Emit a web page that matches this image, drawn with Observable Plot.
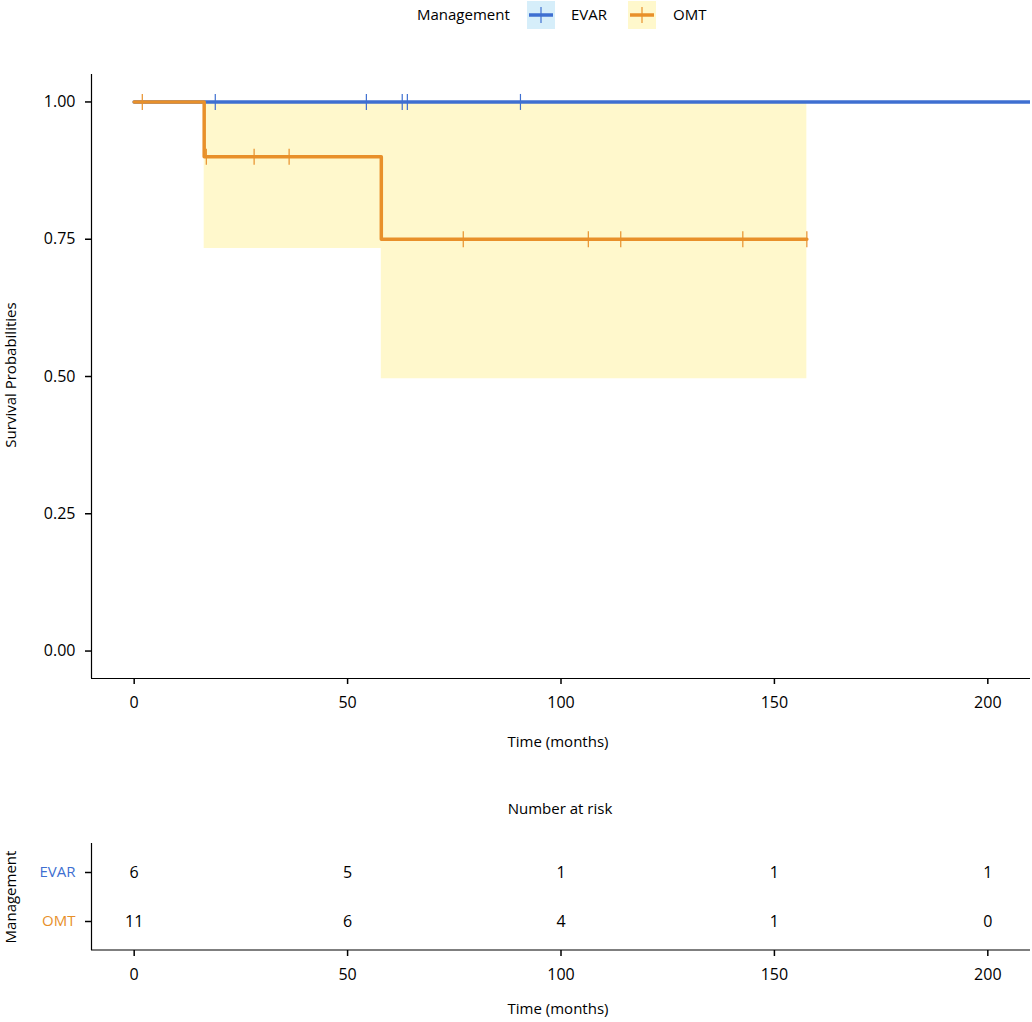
<!DOCTYPE html>
<html>
<head>
<meta charset="utf-8">
<script src="https://cdn.jsdelivr.net/npm/d3@7"></script>
<script src="https://cdn.jsdelivr.net/npm/@observablehq/plot@0.6"></script>
<style>
  html, body { margin: 0; padding: 0; background: #fff; }
  body { font-family: "Open Sans", Lato, sans-serif; color: #000; }
  #wrap { position: relative; width: 1032px; height: 1022px; overflow: hidden; }
  .abs { position: absolute; white-space: nowrap; font-size: 15px; line-height: 1; }
  svg { display: block; }
</style>
</head>
<body>
<div id="wrap">
  <div id="main" style="position:absolute;left:0;top:0;"></div>
  <div id="risk" style="position:absolute;left:0;top:770px;"></div>
  <div id="legend" class="abs" style="left:0;top:0;width:1032px;height:32px;"></div>
  <div class="abs" style="left:558px;top:741px;transform:translate(-50%,-50%);">Time (months)</div>
  <div class="abs" style="left:10px;top:375px;transform:translate(-50%,-50%) rotate(-90deg);">Survival Probabilities</div>
  <div class="abs" style="left:560px;top:808px;transform:translate(-50%,-50%);">Number at risk</div>
  <div class="abs" style="left:558px;top:1008px;transform:translate(-50%,-50%);">Time (months)</div>
  <div class="abs" style="left:10px;top:897px;transform:translate(-50%,-50%) rotate(-90deg);">Management</div>
</div>
<script>
// ---- data ----
const groups = ["EVAR", "OMT"];
const groupColors = ["#3E6FD1", "#E8902A"];
const bandColors = ["#D6EEFA", "#FFF8CC"];

// step curves (time of each step, survival after step)
const evarTimes = [0, 215];
const evarSurv = [1, 1];
const omtTimes = [0, 16.4, 57.9, 157.6];
const omtSurv = [1, 0.9, 0.75, 0.75];

// confidence band for OMT
const omtLower = [1, 0.733, 0.496, 0.496];
const omtUpper = [1, 1, 1, 1];

// censoring times
const evarCensor = [19.0, 54.4, 62.8, 64.0, 90.5];
const omtCensorTimes = [1.9, 16.9, 28.1, 36.3, 77.1, 106.4, 114.0, 142.6, 157.6];
const omtCensorSurv = [1, 0.9, 0.9, 0.9, 0.75, 0.75, 0.75, 0.75, 0.75];

// number at risk
const riskTimes = [0, 50, 100, 150, 200];
const evarRisk = [6, 5, 1, 1, 1];
const omtRisk = [11, 6, 4, 1, 0];

const xTicks = [0, 50, 100, 150, 200];
const yTicks = [0, 0.25, 0.5, 0.75, 1];
const xDomain = [-10, 210];
const yDomain = [-0.05, 1.05];

// ---- build tables ----
const curves = [
  ...evarTimes.map((t, i) => ({group: "EVAR", time: t, surv: evarSurv[i]})),
  ...omtTimes.map((t, i) => ({group: "OMT", time: t, surv: omtSurv[i]}))
];
const band = omtTimes.map((t, i) => ({group: "OMT", time: t, lo: omtLower[i], hi: omtUpper[i]}));
const censors = [
  ...evarCensor.map(t => ({group: "EVAR", time: t, surv: 1})),
  ...omtCensorTimes.map((t, i) => ({group: "OMT", time: t, surv: omtCensorSurv[i]}))
];
const risk = [
  ...riskTimes.map((t, i) => ({group: "EVAR", time: t, n: evarRisk[i]})),
  ...riskTimes.map((t, i) => ({group: "OMT", time: t, n: omtRisk[i]}))
];

const vbar = {
  draw(context, size) {
    const r = Math.sqrt(size / Math.PI);
    context.moveTo(0, -r);
    context.lineTo(0, r);
  }
};

const colorScale = {domain: groups, range: groupColors};
const font = "'Open Sans', Lato, sans-serif";

const main = Plot.plot({
  width: 1032,
  height: 770,
  marginLeft: 91,
  marginRight: 2,
  marginTop: 74,
  marginBottom: 92,
  style: {fontFamily: font, fontSize: "16px", background: "transparent"},
  x: {domain: xDomain, ticks: xTicks},
  y: {domain: yDomain, ticks: yTicks},
  color: colorScale,
  marks: [
    Plot.areaY(band, {x: "time", y1: "lo", y2: "hi", curve: "step-after", fill: bandColors[1], fillOpacity: 1}),
    Plot.line(curves, {x: "time", y: "surv", z: "group", stroke: "group", strokeWidth: 3.5, curve: "step-after", clip: true}),
    Plot.dot(censors, {x: "time", y: "surv", stroke: "group", symbol: vbar, r: 8, strokeWidth: 1.2, fill: "none"}),
    Plot.ruleX([xDomain[0]], {stroke: "black", strokeWidth: 1.2}),
    Plot.ruleY([yDomain[0]], {stroke: "black", strokeWidth: 1.2}),
    Plot.axisX({ticks: xTicks, tickSize: 6, tickPadding: 12, strokeWidth: 1.5, color: "black", label: null, fontSize: 16}),
    Plot.axisY({ticks: yTicks, tickSize: 6, tickPadding: 10, strokeWidth: 1.5, color: "black", label: null, fontSize: 16, tickFormat: d3.format(".2f")})
  ]
});
document.getElementById("main").appendChild(main);

const riskPlot = Plot.plot({
  width: 1032,
  height: 252,
  marginLeft: 91,
  marginRight: 2,
  marginTop: 73,
  marginBottom: 72,
  style: {fontFamily: font, fontSize: "16px", background: "transparent"},
  x: {domain: xDomain, ticks: xTicks},
  y: {type: "point", domain: groups, range: [102, 151], padding: 0},
  color: colorScale,
  marks: [
    Plot.text(risk, {x: "time", y: "group", text: "n", fill: "black", fontSize: 16}),
    Plot.ruleX([xDomain[0]], {stroke: "black", strokeWidth: 1.2}),
    Plot.axisX({ticks: xTicks, tickSize: 6, tickPadding: 12, strokeWidth: 1.5, color: "black", label: null, fontSize: 16}),
    Plot.axisY({tickSize: 6, tickPadding: 10, strokeWidth: 1.5, stroke: "black", fill: d => groupColors[groups.indexOf(d)], label: null, fontSize: 15})
  ]
});
document.getElementById("risk").appendChild(riskPlot);
// bottom axis line for risk table
{
  const svg = d3.select(riskPlot);
  svg.append("line").attr("x1", 91).attr("x2", 1030).attr("y1", 252 - 72).attr("y2", 252 - 72)
    .attr("stroke", "black").attr("stroke-width", 1.2);
}

// ---- legend ----
const leg = d3.select("#legend");
leg.append("div").attr("class", "abs").style("left", "417px").style("top", "7px").text("Management");
const keyX = [527, 628];
const labX = [571, 673];
groups.forEach((g, i) => {
  const s = leg.append("svg").attr("width", 28).attr("height", 28)
    .style("position", "absolute").style("left", keyX[i] + "px").style("top", "1px");
  s.append("rect").attr("width", 28).attr("height", 28).attr("fill", bandColors[i]);
  s.append("line").attr("x1", 2).attr("x2", 26).attr("y1", 14).attr("y2", 14).attr("stroke", groupColors[i]).attr("stroke-width", 3.5);
  s.append("line").attr("x1", 14).attr("x2", 14).attr("y1", 6).attr("y2", 22).attr("stroke", groupColors[i]).attr("stroke-width", 1.2);
  leg.append("div").attr("class", "abs").style("left", labX[i] + "px").style("top", "7px").text(g);
});
</script>
</body>
</html>
